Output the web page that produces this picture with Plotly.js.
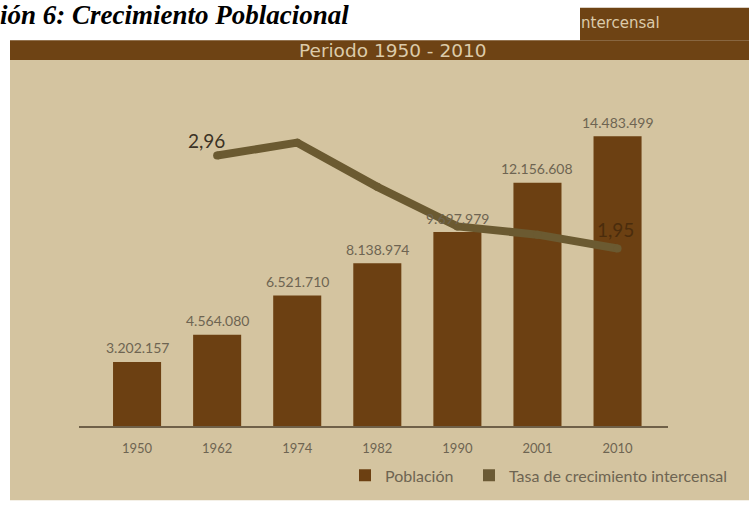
<!DOCTYPE html>
<html>
<head>
<meta charset="utf-8">
<script src="https://cdn.plot.ly/plotly-3.0.1.min.js"></script>
<style>html,body{margin:0;padding:0;background:#fff;}#chart{width:749px;height:505px;}</style>
</head>
<body>
<div id="chart"></div>
<script>
// ---- data ----
const years = ['1950', '1962', '1974', '1982', '1990', '2001', '2010'];
const poblacion = [3202157, 4564080, 6521710, 8138974, 9697979, 12156608, 14483499];
const tasa = [null, 2.96, 3.10, 2.62, 2.19, 2.10, 1.95];
const tasaLabelYears = ['1962', '2010'];
const tasaLabels = ['2,96', '1,95'];
const serieNames = ['Población', 'Tasa de crecimiento intercensal'];

// ---- layout helpers (pixel -> paper) ----
const W = 749, H = 505, ML = 79, MR = 81, MT = 70, MB = 75;
const PW = W - ML - MR, PH = H - MT - MB;
const px = v => (v - ML) / PW;
const py = v => (H - MB - v) / PH;

const fmt = n => String(n).replace(/\B(?=(\d{3})+(?!\d))/g, '.');

const barColor = '#6c4012';
const lineColor = '#6b5a31';
const bg = '#d4c4a0';
const txt = '#6e6452';

const traces = [
  {
    type: 'bar', name: serieNames[0], x: years, y: poblacion,
    marker: {color: barColor}, hoverinfo: 'skip', legend: 'legend'
  },
  {
    type: 'scatter', mode: 'lines+markers', x: years, y: tasa, yaxis: 'y2',
    line: {color: lineColor, width: 8}, marker: {color: lineColor, size: 8},
    showlegend: false, hoverinfo: 'skip'
  },
  {
    type: 'bar', name: serieNames[1], x: years, y: years.map(() => null),
    marker: {color: '#6b5a35'}, hoverinfo: 'skip', legend: 'legend2'
  }
];

const annotations = [];
years.forEach((yr, i) => {
  annotations.push({
    x: i, y: poblacion[i], xref: 'x', yref: 'y', text: fmt(poblacion[i]),
    showarrow: false, yanchor: 'middle', yshift: 14,
    font: {family: 'Lato', size: 14, color: txt}
  });
});
annotations.push({
  x: years.indexOf(tasaLabelYears[0]), y: tasa[years.indexOf(tasaLabelYears[0])], xref: 'x', yref: 'y2',
  text: tasaLabels[0], showarrow: false, xshift: -11, yshift: 15,
  font: {family: 'Lato', size: 19, color: '#3b3225'}
});
annotations.push({
  x: years.indexOf(tasaLabelYears[1]), y: tasa[years.indexOf(tasaLabelYears[1])], xref: 'x', yref: 'y2',
  text: tasaLabels[1], showarrow: false, xshift: -2, yshift: 19,
  font: {family: 'Lato', size: 19, color: '#4a2c0c'}
});
annotations.push({
  xref: 'paper', yref: 'paper', x: px(392), y: py(50), xanchor: 'center', yanchor: 'middle',
  text: 'Periodo 1950 - 2010', showarrow: false,
  font: {family: 'DejaVu Sans', size: 18.5, color: '#dccbaa'}
});
annotations.push({
  xref: 'paper', yref: 'paper', x: px(662), y: py(22), xanchor: 'right', yanchor: 'middle',
  text: 'ntercensal', showarrow: false,
  font: {family: 'DejaVu Sans', size: 15, color: '#dccbaa'}
});
annotations.push({
  xref: 'paper', yref: 'paper', x: px(-2), y: py(14), xanchor: 'left', yanchor: 'middle',
  text: '<b><i>ión 6: Crecimiento Poblacional</i></b>', showarrow: false,
  font: {family: 'Liberation Serif', size: 27, color: '#000'}
});

const shapes = [
  {type: 'rect', xref: 'paper', yref: 'paper', layer: 'below', line: {width: 0}, fillcolor: bg,
   x0: px(10), x1: px(749), y0: py(505), y1: py(60)},
  {type: 'rect', xref: 'paper', yref: 'paper', layer: 'below', line: {width: 0}, fillcolor: '#6e4314',
   x0: px(10), x1: px(749), y0: py(60), y1: py(40)},
  {type: 'rect', xref: 'paper', yref: 'paper', layer: 'below', line: {width: 0}, fillcolor: '#6e4314',
   x0: px(580), x1: px(749), y0: py(40), y1: py(7)}
];

const hiddenAxis = {showgrid: false, zeroline: false, showline: false, showticklabels: false, ticks: '', fixedrange: true};
const legendBase = {
  orientation: 'h', yanchor: 'middle', xanchor: 'left', y: py(480),
  bgcolor: 'rgba(0,0,0,0)', font: {family: 'Lato', size: 16, color: txt}, itemclick: false
};

const layout = {
  width: W, height: H,
  margin: {l: ML, r: MR, t: MT, b: MB, pad: 0},
  paper_bgcolor: '#ffffff', plot_bgcolor: 'rgba(0,0,0,0)',
  barmode: 'overlay', bargap: 0.4,
  showlegend: true,
  legend: Object.assign({}, legendBase, {x: px(345)}),
  legend2: Object.assign({}, legendBase, {x: px(469)}),
  xaxis: {
    type: 'category', range: [-0.725, 6.63], showgrid: false, zeroline: false,
    showline: true, linecolor: '#6f6048', linewidth: 2, ticks: '',
    tickfont: {family: 'Lato', size: 13, color: txt}, ticklabelstandoff: 9, fixedrange: true
  },
  yaxis: Object.assign({range: [0, 17.8e6]}, hiddenAxis),
  yaxis2: Object.assign({range: [0.02, 3.89], overlaying: 'y'}, hiddenAxis),
  annotations: annotations,
  shapes: shapes
};

Plotly.newPlot('chart', traces, layout, {displayModeBar: false, staticPlot: true});
</script>
</body>
</html>
